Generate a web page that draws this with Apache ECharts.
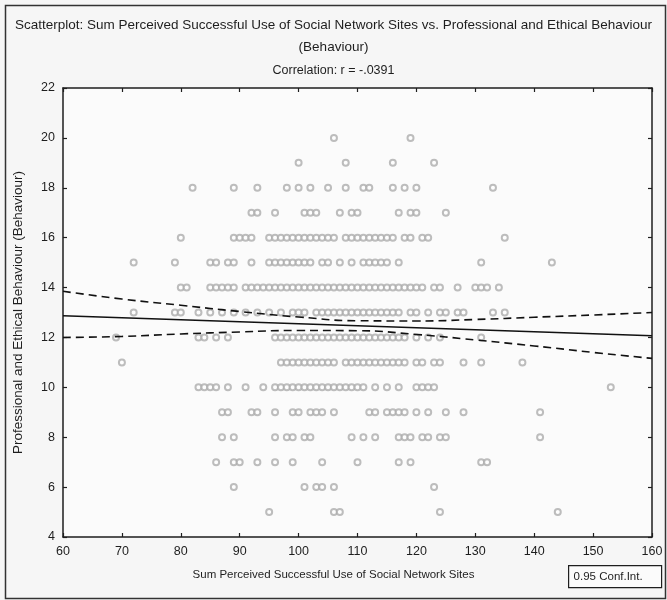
<!DOCTYPE html>
<html>
<head>
<meta charset="utf-8">
<style>
  html, body { margin: 0; padding: 0; background: #f6f6f6; }
  #chart { width: 667px; height: 600px; }
</style>
<script src="https://cdn.jsdelivr.net/npm/echarts@6/dist/echarts.min.js"></script>
</head>
<body>
<div id="chart"></div>
<script>
// Sum Perceived Successful Use of Social Network Sites (x) for each
// Professional and Ethical Behaviour score (row value)
const use20 = [106, 119];
const use19 = [100, 108, 116, 123];
const use18 = [82, 89, 93, 98, 100, 102, 105, 108, 111, 112, 116, 118, 120, 133];
const use17 = [92, 93, 96, 101, 102, 103, 107, 109, 110, 117, 119, 120, 125];
const use16 = [80, 89, 90, 91, 92, 95, 96, 97, 98, 99, 100, 101, 102, 103, 104, 105, 106, 108, 109, 110, 111, 112, 113, 114, 115, 116, 118, 119, 121, 122, 135];
const use15 = [72, 79, 85, 86, 88, 89, 92, 95, 96, 97, 98, 99, 100, 101, 102, 104, 105, 107, 109, 111, 112, 113, 114, 115, 117, 131, 143];
const use14 = [80, 81, 85, 86, 87, 88, 89, 91, 92, 93, 94, 95, 96, 97, 98, 99, 100, 101, 102, 103, 104, 105, 106, 107, 108, 109, 110, 111, 112, 113, 114, 115, 116, 117, 118, 119, 120, 121, 123, 124, 127, 130, 131, 132, 134];
const use13 = [72, 79, 80, 83, 85, 87, 89, 91, 93, 95, 97, 99, 100, 101, 103, 104, 105, 106, 107, 108, 109, 110, 111, 112, 113, 114, 115, 116, 117, 119, 120, 122, 124, 125, 127, 128, 133, 135];
const use12 = [69, 83, 84, 86, 88, 96, 97, 98, 99, 100, 101, 102, 103, 104, 105, 106, 107, 108, 109, 110, 111, 112, 113, 114, 115, 116, 117, 118, 120, 122, 124, 131];
const use11 = [70, 97, 98, 99, 100, 101, 102, 103, 104, 105, 106, 108, 109, 110, 111, 112, 113, 114, 115, 116, 117, 118, 120, 121, 123, 124, 128, 131, 138];
const use10 = [83, 84, 85, 86, 88, 91, 94, 96, 97, 98, 99, 100, 101, 102, 103, 104, 105, 106, 107, 108, 109, 110, 111, 113, 115, 117, 120, 121, 122, 123, 153];
const use9 = [87, 88, 92, 93, 96, 99, 100, 102, 103, 104, 106, 112, 113, 115, 116, 117, 118, 120, 122, 125, 128, 141];
const use8 = [87, 89, 96, 98, 99, 101, 102, 109, 111, 113, 117, 118, 119, 121, 122, 124, 125, 141];
const use7 = [86, 89, 90, 93, 96, 99, 104, 110, 117, 119, 131, 132];
const use6 = [89, 101, 103, 104, 106, 123];
const use5 = [95, 106, 107, 124, 144];

// behaviour score of each row above
const behaviourScores = [20, 19, 18, 17, 16, 15, 14, 13, 12, 11, 10, 9, 8, 7, 6, 5];
const useRows = [use20, use19, use18, use17, use16, use15, use14, use13, use12, use11, use10, use9, use8, use7, use6, use5];

// fitted line and its 0.95 confidence band
const bandX = [60, 70, 80, 90, 100, 110, 120, 130, 140, 150, 160];
const fitY = [12.87, 12.79, 12.71, 12.63, 12.55, 12.47, 12.39, 12.31, 12.23, 12.15, 12.07];
const upperY = [13.85, 13.54, 13.29, 13.04, 12.82, 12.67, 12.66, 12.72, 12.81, 12.90, 13.00];
const lowerY = [12.00, 12.04, 12.14, 12.22, 12.28, 12.27, 12.12, 11.90, 11.66, 11.40, 11.16];

// axis ticks
const xTicks = [60, 70, 80, 90, 100, 110, 120, 130, 140, 150, 160];
const yTicks = [4, 6, 8, 10, 12, 14, 16, 18, 20, 22];

const points = [];
useRows.forEach((row, i) => row.forEach(x => points.push([x, behaviourScores[i]])));
const zip = (xs, ys) => xs.map((x, i) => [x, ys[i]]);

const font = 'Liberation Sans, Arial, sans-serif';
const ink = '#1e1e1e';

const chart = echarts.init(document.getElementById('chart'), null, { renderer: 'canvas' });

const baseX = {
  type: 'value', min: xTicks[0], max: xTicks[xTicks.length - 1], interval: 10,
  axisLine: { show: true, lineStyle: { color: ink, width: 1.5 } },
  axisTick: { show: true, inside: true, length: 4, lineStyle: { color: ink, width: 1.2 } },
  splitLine: { show: false }
};
const baseY = {
  type: 'value', min: yTicks[0], max: yTicks[yTicks.length - 1], interval: 2,
  axisLine: { show: true, lineStyle: { color: ink, width: 1.5 } },
  axisTick: { show: true, inside: true, length: 4, lineStyle: { color: ink, width: 1.2 } },
  splitLine: { show: false }
};

chart.setOption({
  backgroundColor: '#f6f6f6',
  animation: false,
  title: [
    {
      text: 'Scatterplot: Sum Perceived Successful Use of Social Network Sites vs. Professional and Ethical Behaviour\n(Behaviour)',
      left: 'center', top: 9,
      textStyle: { fontFamily: font, fontSize: 13.5, fontWeight: 'normal', color: ink, lineHeight: 22 }
    },
    {
      text: 'Correlation: r = -.0391',
      left: 'center', top: 59,
      textStyle: { fontFamily: font, fontSize: 12.5, fontWeight: 'normal', color: ink }
    }
  ],
  grid: { left: 63, right: 15, top: 88, bottom: 63, show: true, backgroundColor: '#fbfbfb', borderWidth: 0 },
  xAxis: [
    Object.assign({}, baseX, {
      position: 'bottom',
      axisLabel: { show: true, fontFamily: font, fontSize: 12.5, color: ink, margin: 8 },
      name: 'Sum Perceived Successful Use of Social Network Sites',
      nameLocation: 'middle', nameGap: 32,
      nameTextStyle: { fontFamily: font, fontSize: 11.5, color: ink, padding: [0, 48, 0, 0] }
    }),
    Object.assign({}, baseX, { position: 'top', axisLabel: { show: false } })
  ],
  yAxis: [
    Object.assign({}, baseY, {
      position: 'left',
      axisLabel: { show: true, fontFamily: font, fontSize: 12.5, color: ink, margin: 8 },
      name: 'Professional and Ethical Behaviour (Behaviour)',
      nameLocation: 'middle', nameGap: 38,
      nameTextStyle: { fontFamily: font, fontSize: 13.5, color: ink }
    }),
    Object.assign({}, baseY, { position: 'right', axisLabel: { show: false } })
  ],
  series: [
    {
      type: 'scatter', data: points, symbol: 'emptyCircle', symbolSize: 6,
      itemStyle: { color: '#acacac', borderWidth: 1 }, z: 2
    },
    {
      type: 'line', data: zip(bandX, fitY), symbol: 'none', smooth: false,
      lineStyle: { color: '#111', width: 1.6, type: 'solid' }, z: 3
    },
    {
      type: 'line', data: zip(bandX, upperY), symbol: 'none', smooth: true,
      lineStyle: { color: '#111', width: 1.6, type: [8, 5] }, z: 3
    },
    {
      type: 'line', data: zip(bandX, lowerY), symbol: 'none', smooth: true,
      lineStyle: { color: '#111', width: 1.6, type: [8, 5] }, z: 3
    }
  ],
  graphic: [
    {
      type: 'rect', left: 3, top: 3, z: -1,
      shape: { width: 660, height: 593 },
      style: { fill: 'none', stroke: '#333', lineWidth: 1.5 }
    },
    {
      type: 'group', left: 568, top: 565,
      children: [
        { type: 'rect', shape: { width: 93, height: 22 }, style: { fill: '#fbfbfb', stroke: ink, lineWidth: 1.2 } },
        { type: 'text', left: 5, top: 5, style: { text: '0.95 Conf.Int.', font: '11.5px ' + font, fill: ink } }
      ]
    }
  ]
});
</script>
</body>
</html>
